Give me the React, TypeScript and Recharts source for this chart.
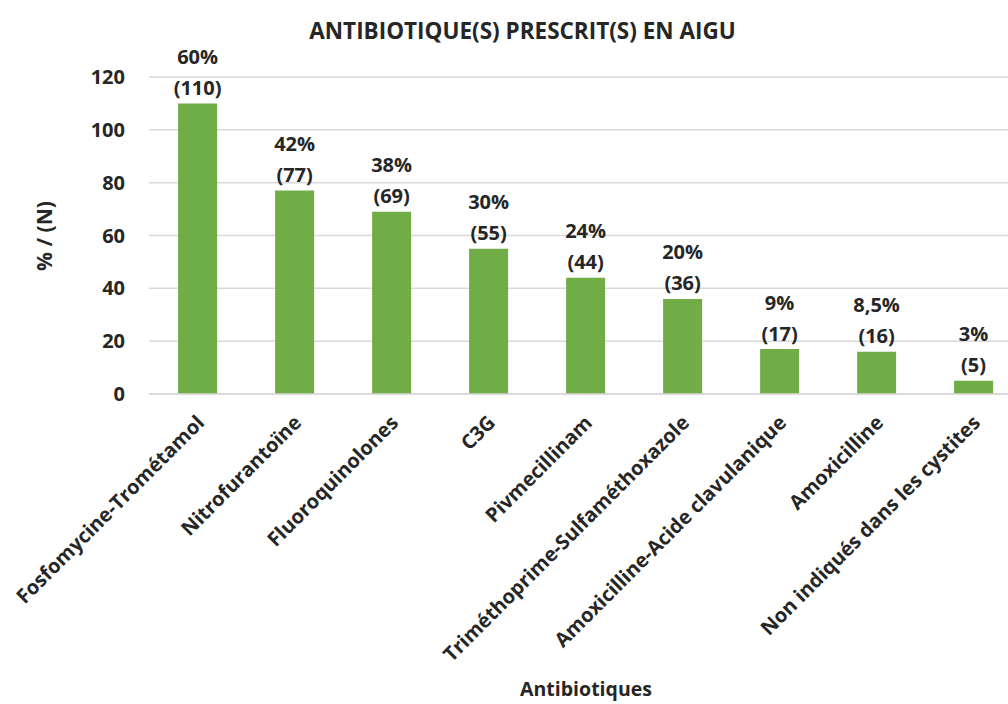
import React from "react";
import { BarChart, Bar, XAxis, YAxis, CartesianGrid, LabelList } from "recharts";

const categories = [
  "Fosfomycine-Trométamol",
  "Nitrofurantoïne",
  "Fluoroquinolones",
  "C3G",
  "Pivmecillinam",
  "Triméthoprime-Sulfaméthoxazole",
  "Amoxicilline-Acide clavulanique",
  "Amoxicilline",
  "Non indiqués dans les cystites",
];
const counts = [110, 77, 69, 55, 44, 36, 17, 16, 5];
const percents = ["60%", "42%", "38%", "30%", "24%", "20%", "9%", "8,5%", "3%"];
const yTicks = [0, 20, 40, 60, 80, 100, 120];

const data = categories.map((name, i) => ({ name, n: counts[i], pct: percents[i], nLabel: `(${counts[i]})` }));

const FONT = "'Open Sans', sans-serif";
const TEXT = "#262626";
const GREEN = "#70AD47";
const GRID = "#D9D9D9";

const XTick = (props: any) => {
  const { x, y, payload } = props;
  return (
    <g transform={`translate(${x + 8},${y + 22})`}>
      <text
        x={0}
        y={0}
        textAnchor="end"
        transform="rotate(-45)"
        fontFamily={FONT}
        fontWeight={700}
        fontSize={20}
        fill={TEXT}
      >
        {payload.value}
      </text>
    </g>
  );
};

const makeLabel = (offset: number) => (props: any) => {
  const { x, y, width, value } = props;
  return (
    <text
      x={Number(x) + Number(width) / 2}
      y={Number(y) - offset}
      textAnchor="middle"
      dominantBaseline="central"
      fontFamily={FONT}
      fontWeight={700}
      fontSize={20}
      fill={TEXT}
    >
      {value}
    </text>
  );
};

export default function App() {
  return (
    <div
      style={{
        position: "absolute",
        left: 0,
        top: 0,
        width: 1008,
        height: 704,
        overflow: "hidden",
        background: "#fff",
        fontFamily: FONT,
      }}
    >
      <BarChart
        width={1030}
        height={704}
        data={data}
        margin={{ top: 77, right: 8, bottom: 0, left: 0 }}
        barCategoryGap="30%"
      >
        <CartesianGrid vertical={false} stroke={GRID} strokeWidth={1.5} />
        <XAxis
          dataKey="name"
          interval={0}
          height={310}
          tickLine={false}
          axisLine={{ stroke: GRID, strokeWidth: 1.5 }}
          tick={<XTick />}
        />
        <YAxis
          width={149}
          domain={[0, 120]}
          ticks={yTicks}
          tickLine={false}
          axisLine={false}
          tickSize={0}
          tickMargin={24}
          tick={{ fontFamily: FONT, fontWeight: 700, fontSize: 20, fill: TEXT }}
        />
        <Bar dataKey="n" fill={GREEN} isAnimationActive={false}>
          <LabelList dataKey="pct" content={makeLabel(47)} />
          <LabelList dataKey="nLabel" content={makeLabel(16)} />
        </Bar>
      </BarChart>
      <div
        style={{
          position: "absolute",
          left: 0,
          width: 1045,
          top: 16,
          textAlign: "center",
          fontFamily: FONT,
          fontWeight: 700,
          fontSize: 22.5,
          color: TEXT,
          lineHeight: "30px",
          whiteSpace: "nowrap",
        }}
      >
        ANTIBIOTIQUE(S) PRESCRIT(S) EN AIGU
      </div>
      <div
        style={{
          position: "absolute",
          left: 0,
          width: 1172,
          top: 674,
          textAlign: "center",
          fontFamily: FONT,
          fontWeight: 700,
          fontSize: 19.5,
          color: TEXT,
          lineHeight: "30px",
        }}
      >
        Antibiotiques
      </div>
      <div
        style={{
          position: "absolute",
          left: 44 - 60,
          top: 236 - 15,
          width: 120,
          textAlign: "center",
          transform: "rotate(-90deg)",
          fontFamily: FONT,
          fontWeight: 700,
          fontSize: 21,
          color: TEXT,
          lineHeight: "30px",
        }}
      >
        % / (N)
      </div>
    </div>
  );
}
